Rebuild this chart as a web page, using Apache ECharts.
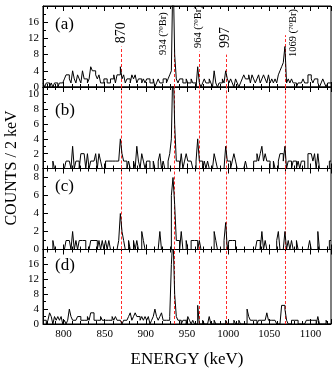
<!DOCTYPE html>
<html>
<head>
<meta charset="utf-8">
<script src="https://cdn.jsdelivr.net/npm/echarts@6/dist/echarts.min.js"></script>
<style>
  html, body { margin: 0; padding: 0; background: #fff; }
  #chart { width: 334px; height: 369px; }
</style>
</head>
<body>
<div id="chart"></div>
<script>
// 2 keV bins, first bin starts at 775 keV
const binStart = 775;
const binWidth = 2;

const countsA = [
  1,0,1,1,0,1,0,1,1,0, 1,1,1,2,3,3,2,1,4,2, 1,3,2,1,4,2,2,1,2,5, 4,4,3,2,3,1,1,2,2,1,
  1,2,2,3,1,3,3,5,2,3, 1,2,2,1,3,2,3,1,2,2, 1,2,1,2,2,1,1,2,0,1, 2,1,1,2,2,1,2,3,4,30,
  8,2,1,2,2,1,1,2,1,1, 2,1,1,0,5,1,0,1,2,1, 1,2,1,0,4,1,0,1,1,2, 1,4,2,1,2,1,0,2,1,0,
  1,2,3,2,2,3,1,3,2,1, 2,3,1,2,3,2,1,3,1,2, 1,2,1,3,4,5,6,10,1,2, 1,2,1,1,0,1,1,1,2,1,
  1,3,3,2,1,2,2,1,0,1, 2,1,0,1,1
];
const countsB = [
  0,0,0,0,0,0,1,0,0,0, 0,0,0,0,1,1,1,0,3,0, 1,1,0,2,2,2,0,2,0,1, 1,1,2,0,2,1,0,0,1,1,
  1,1,1,1,1,1,1,4,2,1, 1,0,1,0,0,1,0,3,1,0, 2,1,0,1,1,0,0,1,0,0, 1,2,0,1,0,0,1,2,4,15,
  6,1,1,0,2,0,1,2,1,1, 1,0,0,1,4,1,1,0,1,0, 1,0,0,0,2,1,0,0,0,0, 0,3,1,1,0,1,2,1,0,0,
  0,0,0,1,0,0,0,0,1,1, 2,1,2,3,1,2,1,1,0,0, 1,0,0,1,2,2,1,3,0,1, 1,0,1,1,0,1,0,1,1,0,
  0,2,2,2,1,2,0,2,0,0, 0,0,0,0,1
];
const countsC = [
  0,0,0,0,0,0,1,0,0,0, 0,0,0,0,1,1,1,0,2,0, 1,0,1,1,1,1,0,0,0,1, 1,1,1,0,1,0,1,0,1,0,
  1,0,0,0,0,0,1,4,2,1, 0,0,1,0,0,1,0,1,0,0, 2,1,0,0,0,0,0,0,0,0, 0,2,0,0,0,0,0,0,6,8,
  5,1,1,0,2,0,0,1,0,0, 1,1,1,1,0,1,0,0,0,0, 0,0,0,0,2,1,0,0,0,0, 1,3,0,1,1,1,1,0,0,0,
  0,0,0,0,0,0,0,0,0,0, 1,1,0,2,0,1,0,0,0,0, 0,0,1,2,0,0,0,2,0,1, 0,1,0,0,1,0,0,0,0,0,
  0,0,1,0,0,0,0,2,0,0, 0,0,0,0,1
];
const countsD = [
  1,1,0,1,3,2,0,2,1,2, 1,2,0,1,0,1,4,2,1,1, 1,2,2,1,1,1,1,2,1,3, 3,1,1,1,1,2,1,1,1,1,
  1,1,2,1,2,1,1,1,0,1, 1,1,2,3,1,2,3,2,2,1, 2,1,2,1,2,0,1,2,4,2, 1,2,3,1,1,1,1,2,16,24,
  8,2,1,1,0,1,1,0,2,1, 0,1,0,0,5,0,0,1,0,0, 0,2,0,0,1,0,0,0,0,0, 0,1,0,0,0,0,1,0,0,1,
  0,0,0,0,4,2,1,1,1,1, 0,1,1,1,1,1,3,1,1,1, 1,1,0,0,0,5,5,4,1,0, 0,1,1,1,1,0,0,0,0,0,
  1,1,1,1,1,1,0,2,0,0, 0,0,1,0,0
];

const panelNames = ['(a)', '(b)', '(c)', '(d)'];
const yMax = [20, 11, 9, 20];
const yStep = [4, 2, 2, 4];

// gamma lines (keV) drawn dashed in every panel
const gammaLines = [870, 934, 964, 997, 1069];
// height (counts) where the dashed line stops under the label in panel (a)
const gammaTopsA = [10, 10, 8.7, 8, 12.8];
// labels in panel (a) and the count level where each label starts
const gammaLabels = ['870', '934 ({sup|70}Br)', '964 ({sup|70}Br)', '997', '1069 ({sup|70}Br)'];
const gammaLabelBase = [10.8, 7.9, 9.6, 9.6, 7.4];
const gammaLabelBig = [true, false, false, true, false];

const xMin = 775, xMax = 1125;
const serif = 'Liberation Serif';

const chart = echarts.init(document.getElementById('chart'));

const grids = [
  { top: 6, height: 81 },
  { top: 87, height: 81.5 },
  { top: 168.5, height: 81 },
  { top: 249.5, height: 80.5 },
];

// outline histogram: each bin gives its left and right edge at the bin height
function histData(counts) {
  const pts = [];
  counts.forEach((c, i) => {
    const lo = binStart + i * binWidth;
    pts.push([lo, c], [lo + binWidth, c]);
  });
  return pts;
}

// dashed vertical line, snapped to the pixel grid so it stays crisp red
function renderGamma(params, api) {
  const p0 = api.coord([api.value(0), 0]);
  const p1 = api.coord([api.value(0), api.value(1)]);
  const x = Math.round(p0[0]) + 0.5;
  return {
    type: 'line',
    shape: { x1: x, y1: p0[1], x2: x, y2: p1[1] },
    style: { stroke: '#ff2a2a', lineWidth: 1, lineDash: [3, 2] },
    silent: true,
  };
}

const allCounts = [countsA, countsB, countsC, countsD];

const xAxes = [];
const yAxes = [];
const series = [];

grids.forEach((g, i) => {
  const tickCommon = {
    type: 'value', gridIndex: i, min: xMin, max: xMax, splitNumber: 7,
    axisLine: { show: true, lineStyle: { color: '#000', width: 1 } },
    axisTick: { show: true, inside: true, length: 5, lineStyle: { color: '#000' } },
    minorTick: { show: true, splitNumber: 5, length: 3, lineStyle: { color: '#000' } },
    splitLine: { show: false },
  };
  xAxes.push(Object.assign({}, tickCommon, {
    position: 'bottom',
    axisLabel: {
      show: i === 3, color: '#000', fontFamily: serif, fontSize: 11, margin: 5,
      showMinLabel: false, showMaxLabel: false,
      formatter: v => String(v),
    },
    name: i === 3 ? 'ENERGY (keV)' : '',
    nameLocation: 'middle',
    nameGap: 27,
    nameTextStyle: { color: '#000', fontFamily: serif, fontSize: 17 },
  }));
  xAxes.push(Object.assign({}, tickCommon, {
    position: 'top',
    axisLabel: { show: false },
  }));
  yAxes.push({
    type: 'value', gridIndex: i, min: 0, max: yMax[i], interval: yStep[i],
    axisLine: { show: true, lineStyle: { color: '#000', width: 1 } },
    axisTick: { show: true, inside: true, length: 5, lineStyle: { color: '#000' } },
    minorTick: { show: true, splitNumber: 2, length: 3, lineStyle: { color: '#000' } },
    axisLabel: { color: '#000', fontFamily: serif, fontSize: 11, margin: 4, showMaxLabel: false },
    splitLine: { show: false },
  });

  series.push({
    type: 'custom',
    xAxisIndex: i * 2,
    yAxisIndex: i,
    renderItem: renderGamma,
    data: gammaLines.map((e, j) => [e, i === 0 ? gammaTopsA[j] : yMax[i]]),
    z: 2,
    silent: true,
  });

  series.push({
    type: 'line',
    xAxisIndex: i * 2,
    yAxisIndex: i,
    data: histData(allCounts[i]),
    showSymbol: false,
    symbol: 'none',
    sampling: null,
    lineStyle: { color: '#000', width: 1 },
    clip: true,
    z: 3,
    silent: true,
  });
});

const option = {
  animation: false,
  backgroundColor: '#fff',
  grid: grids.map(g => Object.assign({
    left: 43, right: 3, show: true, borderColor: '#000', borderWidth: 1,
  }, g)),
  xAxis: xAxes,
  yAxis: yAxes,
  series: series,
};

chart.setOption(option);

// texts placed after layout is known
const panelLabelY = [25, 111, 187, 266];
const graphics = [];
panelNames.forEach((name, i) => {
  graphics.push({
    type: 'text', x: 55, y: panelLabelY[i],
    style: { text: name, fill: '#000', font: '17px "' + serif + '"', verticalAlign: 'middle' },
  });
});
graphics.push({
  type: 'text', x: 12, y: 168, rotation: Math.PI / 2,
  style: { text: 'COUNTS / 2 keV', fill: '#000', font: '16px "' + serif + '"', align: 'center', verticalAlign: 'middle' },
});

// label offsets from each line (px)
const labelDx = [0, -11, 0, 0, 8];
gammaLines.forEach((e, j) => {
  const p = chart.convertToPixel({ xAxisIndex: 0, yAxisIndex: 0 }, [e, gammaLabelBase[j]]);
  graphics.push({
    type: 'text', x: p[0] + labelDx[j], y: p[1], rotation: Math.PI / 2,
    style: {
      text: gammaLabels[j], fill: '#000',
      font: (gammaLabelBig[j] ? '14px' : '10.5px') + ' "' + serif + '"',
      align: 'left', verticalAlign: 'middle',
      rich: { sup: { fontSize: 7, fontFamily: serif, verticalAlign: 'top', fill: '#000', padding: [0, 0, 4, 0] } },
    },
  });
});

chart.setOption({ graphic: graphics });
</script>
</body>
</html>
